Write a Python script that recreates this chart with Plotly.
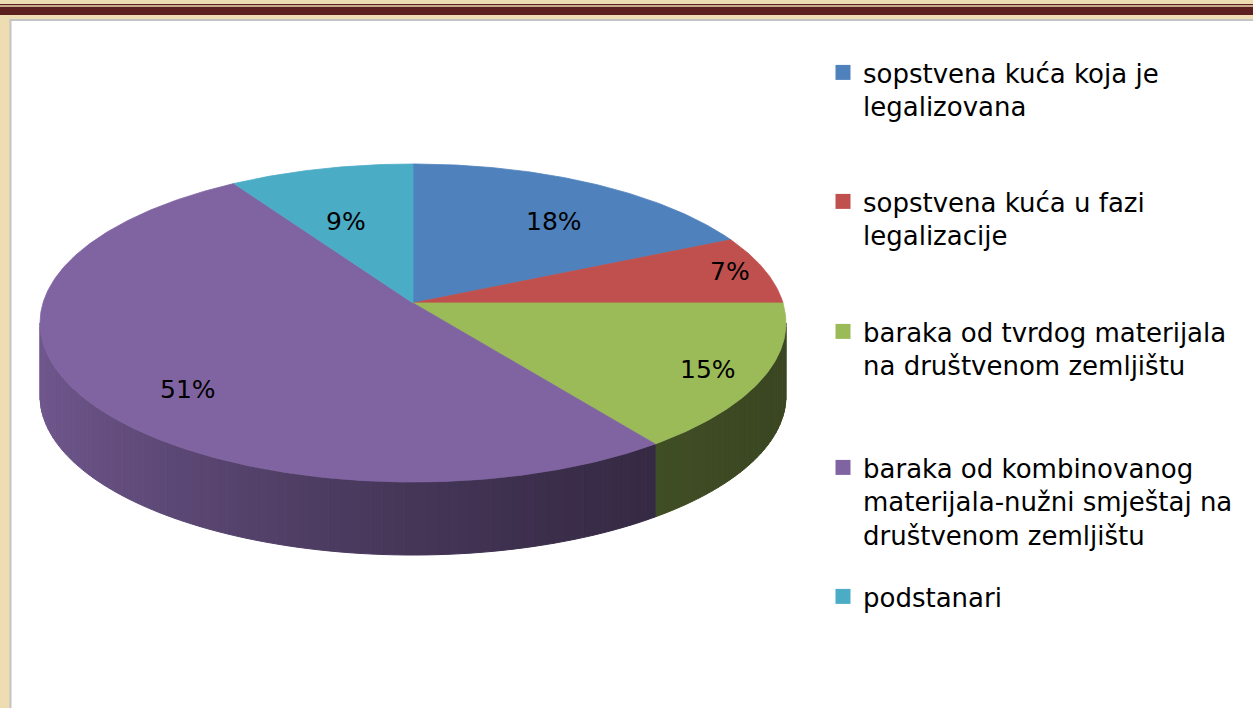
import numpy as np
import plotly.graph_objects as go

# ---------------- data ----------------
categories = [
    "sopstvena kuća koja je<br>legalizovana",
    "sopstvena kuća u fazi<br>legalizacije",
    "baraka od tvrdog materijala<br>na društvenom zemljištu",
    "baraka od kombinovanog<br>materijala-nužni smještaj na<br>društvenom zemljištu",
    "podstanari",
]
values = [18, 7, 15, 51, 9]
colors = ["#4F81BD", "#C0504D", "#9BBB59", "#8064A2", "#4BACC6"]

# ---------------- geometry / style (pixel space) ----------------
W, H = 1253, 708
CX, CY = 413, 303      # pie centre on top face
RX = 370               # horizontal radius
A = 156.5              # vertical radius factor
K = 0.1258             # perspective factor
DEPTH = 73             # thickness of the pie
label_frac = [0.77, 0.9, 0.85, 0.7, 0.7]
label_dy = [13, -2, 3, 22, 15]
legend_centers = [71, 200, 330, 466, 595]
FONT = "DejaVu Sans"


def proj(theta_deg, f=1.0):
    t = np.radians(theta_deg)
    u = f * np.sin(t)
    v = f * np.cos(t)
    s = 1 + K * v
    return CX + RX * u / s, CY - A * v / s


def hex2rgb(h):
    h = h.lstrip("#")
    return [int(h[i:i + 2], 16) for i in (0, 2, 4)]


total = float(sum(values))
angles = np.concatenate([[0], np.cumsum(values) / total * 360.0])

fig = go.Figure()

# ---- side (rim) strips ----
vis_lo = np.degrees(np.arccos(-K))
vis_hi = 360 - vis_lo
for i, col in enumerate(colors):
    a0, a1 = max(angles[i], vis_lo), min(angles[i + 1], vis_hi)
    if a1 <= a0:
        continue
    n = max(1, int(np.ceil((a1 - a0) / 1.5)))
    edges = np.linspace(a0, a1, n + 1)
    base = np.array(hex2rgb(col))
    for j in range(n):
        ts = np.linspace(edges[j], edges[j + 1], 4)
        xs, ys = proj(ts)
        px = list(xs) + list(xs[::-1]) + [xs[0]]
        py = list(ys) + list(ys[::-1] + DEPTH) + [ys[0]]
        mid = np.radians((edges[j] + edges[j + 1]) / 2)
        u = np.sin(mid)
        fac = 0.38 + 0.5 * ((1 - u) / 2) ** 1.6
        c = np.clip(base * fac, 0, 255).astype(int)
        cstr = f"rgb({c[0]},{c[1]},{c[2]})"
        fig.add_trace(go.Scatter(
            x=px, y=py, mode="lines", fill="toself", fillcolor=cstr,
            line=dict(color=cstr, width=1), hoverinfo="skip", showlegend=False))

# ---- top faces ----
for i, col in enumerate(colors):
    ts = np.linspace(angles[i], angles[i + 1], max(3, int((angles[i + 1] - angles[i]) * 2)))
    xs, ys = proj(ts)
    px = [CX] + list(xs) + [CX]
    py = [CY] + list(ys) + [CY]
    fig.add_trace(go.Scatter(
        x=px, y=py, mode="lines", fill="toself", fillcolor=col,
        line=dict(color=col, width=0.8), hoverinfo="skip", showlegend=False))

# ---- data labels ----
for i, v in enumerate(values):
    mid = (angles[i] + angles[i + 1]) / 2
    lx, ly = proj(mid, label_frac[i])
    fig.add_annotation(x=lx, y=ly + label_dy[i], text=f"{v}%", showarrow=False,
                       font=dict(family=FONT, size=25, color="black"),
                       xanchor="center", yanchor="middle")

# ---- legend entries (one legend per entry for exact spacing) ----
for i, (cat, col) in enumerate(zip(categories, colors)):
    lname = "legend" if i == 0 else f"legend{i + 1}"
    fig.add_trace(go.Scatter(
        x=[None], y=[None], mode="markers", name=cat,
        marker=dict(symbol="square", size=15, color=col),
        legend=lname, showlegend=True, hoverinfo="skip"))
    fig.update_layout(**{lname: dict(
        x=823 / W, y=1 - (legend_centers[i] - 22) / H,
        xanchor="left", yanchor="top", bgcolor="rgba(0,0,0,0)",
        font=dict(family=FONT, size=26, color="black"),
        valign="top", borderwidth=0)})

# ---- page decoration ----
shapes = [
    dict(type="rect", x0=0, x1=W, y0=4, y1=5.3, fillcolor="#5E1F20", line_width=0, layer="below"),
    dict(type="rect", x0=0, x1=W, y0=6.7, y1=15, fillcolor="#5E1F20", line_width=0, layer="below"),
    dict(type="rect", x0=10.5, x1=W + 5, y0=20, y1=H + 5, fillcolor="white",
         line=dict(color="#C4C4C4", width=2), layer="below"),
]

fig.update_layout(
    width=W, height=H, autosize=False,
    margin=dict(l=0, r=0, t=0, b=0),
    paper_bgcolor="#EEDCB3", plot_bgcolor="rgba(0,0,0,0)",
    xaxis=dict(range=[0, W], visible=False, fixedrange=True),
    yaxis=dict(range=[H, 0], visible=False, fixedrange=True),
    shapes=shapes,
    showlegend=True,
)

fig.write_html("out.html", config={"displayModeBar": False},
               post_script="document.body.style.margin='0';document.body.style.overflow='hidden';")
